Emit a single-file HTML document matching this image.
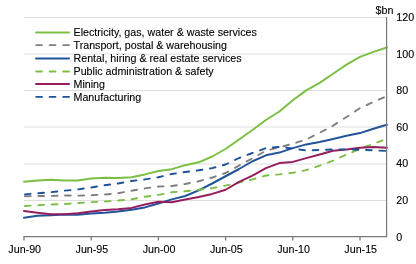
<!DOCTYPE html>
<html><head><meta charset="utf-8"><style>
html,body{margin:0;padding:0;background:#fff;width:416px;height:264px;overflow:hidden}
svg{display:block;will-change:transform}
text{font-family:"Liberation Sans",sans-serif;font-size:10.7px;fill:#000;stroke:#000;stroke-width:0.12px}
</style></head><body>
<svg width="416" height="264" viewBox="0 0 416 264">
<line x1="24" y1="17.5" x2="386.5" y2="17.5" stroke="#DEDEDE" stroke-width="1"/>
<line x1="24" y1="54" x2="386.5" y2="54" stroke="#DEDEDE" stroke-width="1"/>
<line x1="24" y1="90.5" x2="386.5" y2="90.5" stroke="#DEDEDE" stroke-width="1"/>
<line x1="24" y1="127" x2="386.5" y2="127" stroke="#DEDEDE" stroke-width="1"/>
<line x1="24" y1="164" x2="386.5" y2="164" stroke="#DEDEDE" stroke-width="1"/>
<line x1="24" y1="200.5" x2="386.5" y2="200.5" stroke="#DEDEDE" stroke-width="1"/>
<line x1="36" y1="32.4" x2="69" y2="32.4" stroke="#7CBF45" stroke-width="2.0" stroke-linecap="round"/>
<text x="73.5" y="36.2">Electricity, gas, water &amp; waste services</text>
<line x1="36.2" y1="45.1" x2="69" y2="45.1" stroke="#7F7F7F" stroke-width="1.9" stroke-dasharray="5.8 7.7" stroke-linecap="round"/>
<text x="73.5" y="48.9">Transport, postal &amp; warehousing</text>
<line x1="36" y1="58.6" x2="69" y2="58.6" stroke="#215499" stroke-width="2.0" stroke-linecap="round"/>
<text x="73.5" y="62.4">Rental, hiring &amp; real estate services</text>
<line x1="36.2" y1="71.5" x2="69" y2="71.5" stroke="#7CBF45" stroke-width="1.9" stroke-dasharray="5.8 7.7" stroke-linecap="round"/>
<text x="73.5" y="75.3">Public administration &amp; safety</text>
<line x1="36" y1="84.0" x2="69" y2="84.0" stroke="#951E5F" stroke-width="2.0" stroke-linecap="round"/>
<text x="73.5" y="87.8">Mining</text>
<line x1="36.2" y1="96.9" x2="69" y2="96.9" stroke="#1D5296" stroke-width="1.9" stroke-dasharray="5.8 7.7" stroke-linecap="round"/>
<text x="73.5" y="100.7">Manufacturing</text>
<polyline points="24.00,181.75 37.44,180.50 50.88,179.75 64.32,180.50 77.76,180.60 91.20,178.50 104.64,177.75 118.08,178.10 131.52,177.25 144.96,174.40 158.40,171.00 171.84,169.15 185.28,165.15 198.72,162.30 212.16,156.50 225.60,149.00 239.04,139.50 252.48,130.00 265.92,120.00 279.36,111.50 292.80,100.30 306.24,90.40 319.68,82.90 333.12,73.75 346.56,64.60 360.00,56.90 373.44,51.90 386.88,47.50" fill="none" stroke="#7CBF45" stroke-width="2.0" stroke-linejoin="round" stroke-linecap="round"/>
<polyline points="24.00,196.30 37.44,196.00 50.88,195.90 64.32,195.50 77.76,195.60 91.20,195.25 104.64,194.50 118.08,193.30 131.52,190.70 144.96,188.40 158.40,186.55 171.84,186.00 185.28,184.00 198.72,181.25 212.16,177.50 225.60,173.00 239.04,165.60 252.48,158.25 265.92,150.75 279.36,147.25 292.80,143.75 306.24,139.50 319.68,132.75 333.12,125.60 346.56,117.00 360.00,108.10 373.44,101.90 386.88,96.00" fill="none" stroke="#7F7F7F" stroke-width="1.9" stroke-linejoin="round" stroke-linecap="round" stroke-dasharray="5.7 7.65" stroke-dashoffset="-1"/>
<polyline points="24.00,217.75 37.44,215.80 50.88,215.20 64.32,214.55 77.76,214.80 91.20,213.50 104.64,212.70 118.08,211.60 131.52,209.75 144.96,207.40 158.40,203.50 171.84,199.40 185.28,196.00 198.72,190.30 212.16,183.50 225.60,176.25 239.04,169.00 252.48,161.25 265.92,155.30 279.36,152.60 292.80,148.10 306.24,144.40 319.68,141.90 333.12,139.00 346.56,135.80 360.00,133.10 373.44,128.75 386.88,124.75" fill="none" stroke="#215499" stroke-width="2.0" stroke-linejoin="round" stroke-linecap="round"/>
<polyline points="24.00,206.00 37.44,205.25 50.88,204.50 64.32,204.00 77.76,203.10 91.20,202.10 104.64,201.55 118.08,200.50 131.52,199.25 144.96,196.75 158.40,194.90 171.84,192.25 185.28,191.25 198.72,189.75 212.16,188.10 225.60,185.60 239.04,182.50 252.48,179.40 265.92,175.50 279.36,174.40 292.80,172.75 306.24,170.10 319.68,165.60 333.12,160.60 346.56,154.50 360.00,148.75 373.44,143.75 386.88,138.75" fill="none" stroke="#7CBF45" stroke-width="1.9" stroke-linejoin="round" stroke-linecap="round" stroke-dasharray="5.7 7.65" stroke-dashoffset="-1"/>
<polyline points="24.00,211.00 37.44,212.65 50.88,214.15 64.32,214.15 77.76,213.30 91.20,211.50 104.64,210.00 118.08,209.30 131.52,207.90 144.96,204.50 158.40,201.80 171.84,202.30 185.28,199.40 198.72,196.90 212.16,193.90 225.60,189.75 239.04,181.90 252.48,175.60 265.92,168.10 279.36,163.10 292.80,161.90 306.24,158.10 319.68,154.50 333.12,150.80 346.56,149.60 360.00,147.75 373.44,146.90 386.88,147.75" fill="none" stroke="#951E5F" stroke-width="2.0" stroke-linejoin="round" stroke-linecap="round"/>
<polyline points="24.00,194.50 37.44,193.30 50.88,192.20 64.32,190.70 77.76,189.40 91.20,187.50 104.64,185.25 118.08,183.50 131.52,181.00 144.96,179.40 158.40,177.25 171.84,174.00 185.28,172.00 198.72,170.30 212.16,168.10 225.60,164.50 239.04,158.00 252.48,153.00 265.92,148.10 279.36,146.90 292.80,148.50 306.24,150.60 319.68,150.00 333.12,149.40 346.56,149.40 360.00,149.75 373.44,150.40 386.88,151.00" fill="none" stroke="#1D5296" stroke-width="1.9" stroke-linejoin="round" stroke-linecap="round" stroke-dasharray="5.7 7.65" stroke-dashoffset="-1"/>
<line x1="23.4" y1="236.7" x2="387.2" y2="236.7" stroke="#7A7A7A" stroke-width="1.3"/>
<line x1="386.6" y1="17.2" x2="386.6" y2="237" stroke="#7A7A7A" stroke-width="1.2"/>
<line x1="24.00" y1="236.5" x2="24.00" y2="240.5" stroke="#7A7A7A" stroke-width="1.3"/>
<text x="24.70" y="253.3" text-anchor="middle">Jun-90</text>
<line x1="91.20" y1="236.5" x2="91.20" y2="240.5" stroke="#7A7A7A" stroke-width="1.3"/>
<text x="91.90" y="253.3" text-anchor="middle">Jun-95</text>
<line x1="158.40" y1="236.5" x2="158.40" y2="240.5" stroke="#7A7A7A" stroke-width="1.3"/>
<text x="159.10" y="253.3" text-anchor="middle">Jun-00</text>
<line x1="225.60" y1="236.5" x2="225.60" y2="240.5" stroke="#7A7A7A" stroke-width="1.3"/>
<text x="226.30" y="253.3" text-anchor="middle">Jun-05</text>
<line x1="292.80" y1="236.5" x2="292.80" y2="240.5" stroke="#7A7A7A" stroke-width="1.3"/>
<text x="293.50" y="253.3" text-anchor="middle">Jun-10</text>
<line x1="360.00" y1="236.5" x2="360.00" y2="240.5" stroke="#7A7A7A" stroke-width="1.3"/>
<text x="360.70" y="253.3" text-anchor="middle">Jun-15</text>
<text x="396.3" y="21.00">120</text>
<text x="396.3" y="57.60">100</text>
<text x="396.3" y="94.20">80</text>
<text x="396.3" y="130.80">60</text>
<text x="396.3" y="167.40">40</text>
<text x="396.3" y="204.00">20</text>
<text x="396.3" y="240.60">0</text>
<text x="375.5" y="14">$bn</text>
</svg>
</body></html>
